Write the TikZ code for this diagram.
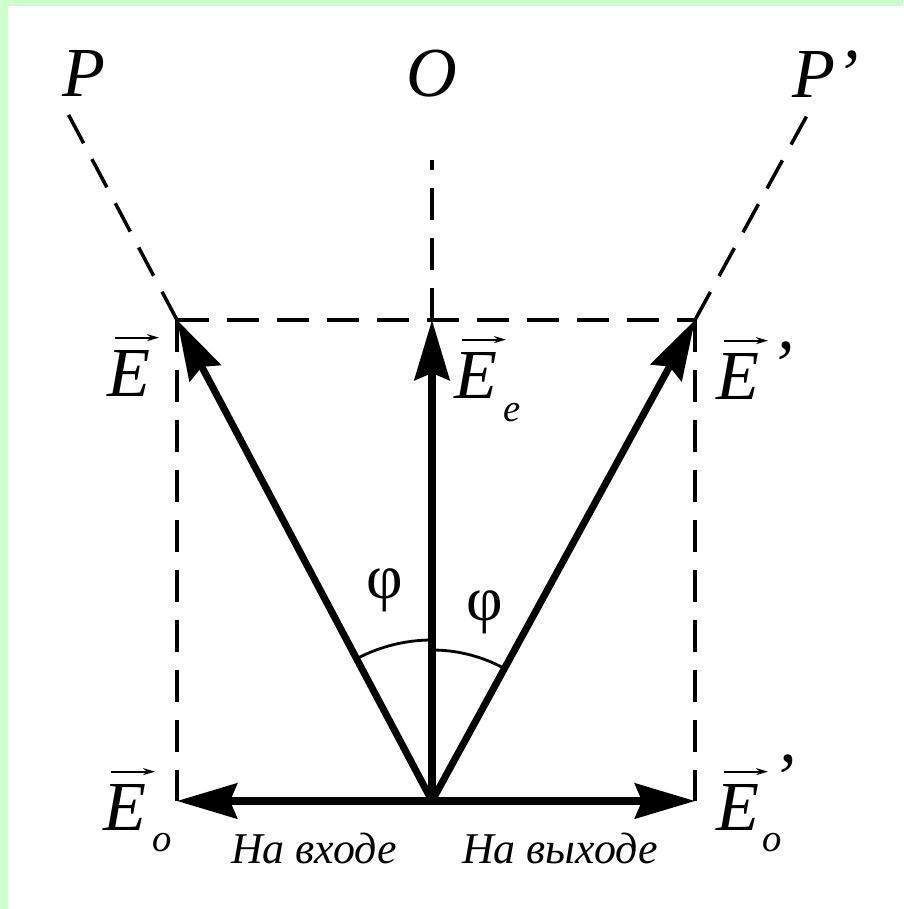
\documentclass[tikz,border=0pt]{standalone}
\usepackage{fontspec}
\setmainfont{Liberation Serif}
\usetikzlibrary{arrows.meta}
\definecolor{framegreen}{RGB}{204,255,204}
\tikzset{
  vect/.style={line width=4pt,-{Stealth[length=1.2cm,width=0.7cm,inset=0.14cm]}},
  guide/.style={line width=2pt,dash pattern=on 0.64cm off 0.36cm},
  overarr/.style={line width=1.1pt,-{Stealth[length=0.24cm,width=0.14cm]}},
  lbl/.style={font=\fontsize{40}{48}\selectfont\itshape,inner sep=0pt},
  sub/.style={font=\fontsize{22}{26}\selectfont\itshape,inner sep=0pt},
  angl/.style={font=\fontsize{36}{42}\selectfont,inner sep=0pt},
  capt/.style={font=\fontsize{25}{30}\selectfont\itshape,inner sep=0pt}
}
\begin{document}
\begin{tikzpicture}[x=0.02cm,y=0.02cm]
\fill[framegreen](0,0)rectangle(903,909);
\fill[white](8,0)rectangle(903,903);
\useasboundingbox(0,0)rectangle(903,909);
% points of the figure
\coordinate(o)at(432,108);
\coordinate(a)at(177,589);
\coordinate(b)at(432,589);
\coordinate(c)at(695,589);
\coordinate(d)at(177,108);
\coordinate(f)at(695,108);
\coordinate(p)at(66,799);
\coordinate(q)at(432,749);
\coordinate(r)at(810,799);
% dashed lines
\draw[guide](a)--(c);
\draw[guide](a)--(d);
\draw[guide](c)--(f);
\draw[guide](a)--(p);
\draw[guide](b)--(q);
\draw[guide](c)--(r);
% angles
\draw[line width=1.6pt](o)++(90:161)arc[start angle=90,end angle=117.9,radius=161];
\draw[line width=1.6pt](o)++(90:151)arc[start angle=90,end angle=61.3,radius=151];
% vectors
\draw[vect](o)--(a);
\draw[vect](o)--(b);
\draw[vect](o)--(c);
\draw[vect](o)--(d);
\draw[vect](o)--(f);
% labels
\node[lbl](lp)at(84,835){P};
\node[lbl](lo)at(432,835){O};
\node[lbl](lr)at(826,835){P’};
\node[lbl](le)at(129,536){E};
\node[lbl](lee)at(476,534){E};
\node[sub](lees)at(512,496){e};
\node[lbl](le1)at(738,533){E};
\node[lbl](le1p)at(781,544){’};
\node[lbl](leo)at(125,102){E};
\node[sub](leos)at(162,66){o};
\node[lbl](leo1)at(738,102){E};
\node[sub](leo1s)at(772,66){o};
\node[lbl](leo1p)at(783,131){’};
% arrows over E
\foreach \n in {le,lee,le1,leo,leo1}
  \draw[overarr]([xshift=-0.28cm,yshift=0.24cm]\n.north)--([xshift=0.6cm,yshift=0.24cm]\n.north);
\node[angl](phi1)at(385,319){φ};
\node[angl](phi2)at(485,297){φ};
\node[capt](in)at(314,61){На входе};
\node[capt](out)at(560,61){На выходе};
\end{tikzpicture}
\end{document}
